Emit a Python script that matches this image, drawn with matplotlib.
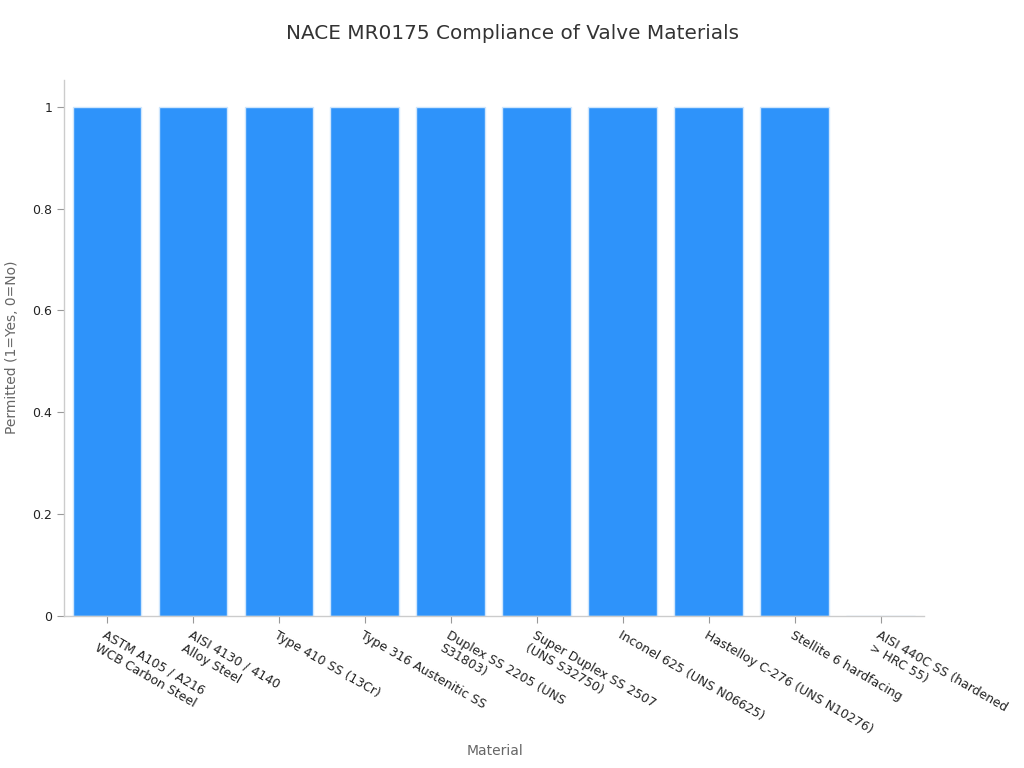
import matplotlib
matplotlib.use("Agg")
import matplotlib.pyplot as plt
from matplotlib.ticker import FuncFormatter

categories = [
    "ASTM A105 / A216\nWCB Carbon Steel",
    "AISI 4130 / 4140\nAlloy Steel",
    "Type 410 SS (13Cr)",
    "Type 316 Austenitic SS",
    "Duplex SS 2205 (UNS\nS31803)",
    "Super Duplex SS 2507\n(UNS S32750)",
    "Inconel 625 (UNS N06625)",
    "Hastelloy C-276 (UNS N10276)",
    "Stellite 6 hardfacing",
    "AISI 440C SS (hardened\n> HRC 55)",
]
permitted = [1, 1, 1, 1, 1, 1, 1, 1, 1, 0]

title = "NACE MR0175 Compliance of Valve Materials"
xlabel = "Material"
ylabel = "Permitted (1=Yes, 0=No)"

fig = plt.figure(figsize=(10.24, 7.68), dpi=100)
ax = fig.add_axes([0.0625, 0.198, 0.8395, 0.698])

x = list(range(len(categories)))
ax.bar(x, permitted, width=0.8, color="#2E93FA", edgecolor="#CFE6FD", linewidth=1.0, zorder=2)

ax.set_xlim(-0.5, len(categories) - 0.5)
ax.set_ylim(0, 1.053)
ax.set_yticks([0, 0.2, 0.4, 0.6, 0.8, 1.0])
ax.yaxis.set_major_formatter(FuncFormatter(lambda v, p: f"{v:g}"))
ax.set_xticks(x)
ax.set_xticklabels(categories, rotation=-30, ha="left", va="top",
                   rotation_mode="anchor", fontsize=9, color="#222222",
                   multialignment="left")
ax.tick_params(axis="x", length=5, color="#999999", pad=4)
ax.tick_params(axis="y", length=5, color="#999999", labelsize=9, labelcolor="#222222")

for s in ["top", "right"]:
    ax.spines[s].set_visible(False)
for s in ["left", "bottom"]:
    ax.spines[s].set_color("#CCCCCC")
    ax.spines[s].set_linewidth(1.0)

fig.text(0.5, 0.957, title, ha="center", va="center", fontsize=14.4, color="#333333")
fig.text(0.483, 0.022, xlabel, ha="center", va="center", fontsize=10, color="#666666")
fig.text(0.012, 0.548, ylabel, ha="center", va="center", rotation=90, fontsize=10, color="#666666")

fig.savefig("out.png", dpi=100)
